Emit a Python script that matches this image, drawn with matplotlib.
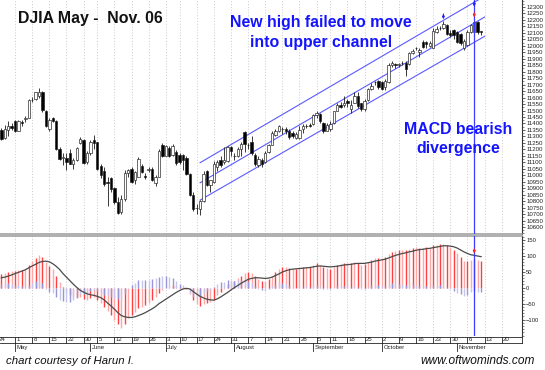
import numpy as np
import pandas as pd
import matplotlib
matplotlib.use("Agg")
import matplotlib.pyplot as plt
from matplotlib.patches import Rectangle
from matplotlib.ticker import MultipleLocator

plt.rcParams['font.family'] = ['Liberation Sans', 'DejaVu Sans']

# ---------------- data ----------------
holidays = ['2006-05-29', '2006-07-04', '2006-09-04', '2006-11-23']
first_candle = '2006-04-25'

opens = [11350,11285,11350,11380,11420,11345,11410,11435,11445,11578,
         11590,11615,11640,11500,11360,11440,11420,11205,11130,11130,
         11170,11090,11117,11250,11275,11100,11170,11275,11255,11075,
         11030,10950,10975,10900,10790,10715,10816,11015,11050,10965,
         10990,11070,10995,11040,11050,10940,10990,11230,11150,11210,
         11160,11180,11160,11155,11134,11013,10846,10745,10740,10800,
         11035,10925,10950,11060,11115,11105,11110,11215,11150,11145,
         11200,11335,11235,11260,11160,11080,11118,11105,11180,11232,
         11310,11345,11360,11360,11345,11330,11290,11285,11355,11380,
         11385,11395,11465,11470,11400,11345,11360,11400,11500,11545,
         11540,11575,11510,11560,11610,11555,11510,11580,11670,11718,
         11730,11720,11680,11720,11850,11860,11855,11865,11870,11860,
         11945,11980,11950,12030,12030,12000,11985,12110,12140,12135,
         12160,12100,12120,12110,12095,11985,12005,12110,12110,12185,
         12112]
highs = [11365,11390,11420,11400,11430,11425,11430,11460,11590,11605,
         11645,11675,11650,11505,11440,11450,11425,11220,11170,11170,
         11205,11130,11220,11295,11280,11185,11275,11310,11260,11090,
         11065,10990,10990,10910,10830,10850,11040,11050,11060,11030,
         11140,11090,11020,11060,11060,11000,11200,11250,11235,11225,
         11240,11195,11170,11165,11150,11015,10870,10780,10810,11030,
         11040,10965,11110,11120,11150,11220,11225,11225,11170,11215,
         11260,11340,11250,11300,11175,11145,11130,11190,11240,11340,
         11360,11390,11370,11375,11355,11340,11335,11380,11395,11395,
         11400,11470,11500,11480,11410,11400,11420,11500,11560,11565,
         11610,11590,11580,11640,11645,11560,11590,11675,11710,11730,
         11735,11725,11740,11870,11880,11870,11870,11880,11880,11955,
         11975,11990,11985,12045,12040,12040,12140,12150,12155,12195,
         12165,12120,12130,12115,12100,12050,12125,12165,12205,12195,
         12115]
lows = [11270,11280,11300,11350,11335,11340,11380,11415,11440,11565,
        11580,11600,11490,11370,11340,11410,11195,11120,11080,11040,
        11085,11050,11110,11245,11090,11085,11160,11200,11040,10975,
        10920,10760,10870,10780,10700,10700,10800,10990,10940,10930,
        10985,11020,10970,11025,10955,10920,10985,11140,11145,11140,
        11150,11080,11090,11040,11005,10840,10720,10700,10690,10795,
        10920,10870,10940,11030,11060,11090,11105,11150,11120,11140,
        11150,11180,11200,11160,11070,11060,11060,11095,11175,11230,
        11300,11335,11320,11320,11280,11290,11280,11280,11330,11365,
        11370,11390,11440,11400,11330,11340,11340,11395,11495,11520,
        11530,11530,11480,11555,11520,11500,11495,11575,11660,11700,
        11670,11660,11660,11710,11840,11830,11840,11850,11770,11855,
        11935,11965,11910,11985,11980,11990,11980,12100,12125,12130,
        12080,12070,12050,12020,12005,11970,12000,12100,12090,12095,
        12080]
closes = [11283,11354,11382,11367,11343,11416,11400,11439,11578,11585,
          11640,11643,11501,11381,11429,11420,11205,11128,11144,11105,
          11090,11117,11211,11278,11094,11168,11260,11248,11049,11002,
          10932,10939,10892,10793,10706,10816,11015,11040,10950,11025,
          11125,11027,10990,11045,10963,10990,11191,11150,11228,11151,
          11226,11091,11103,11120,11013,10846,10739,10747,10799,11011,
          10928,10960,11090,11104,11080,11120,11220,11186,11145,11200,
          11243,11240,11230,11173,11085,11124,11088,11175,11230,11327,
          11345,11381,11355,11340,11298,11304,11320,11352,11380,11383,
          11381,11464,11480,11420,11345,11392,11397,11498,11543,11527,
          11561,11555,11541,11613,11534,11508,11576,11669,11689,11718,
          11679,11670,11727,11851,11867,11850,11858,11867,11820,11948,
          11961,11981,11965,11993,12012,12025,12117,12128,12135,12170,
          12090,12086,12081,12031,12019,12040,12106,12157,12185,12103,
          12110]

macd = [42,46,50,52,52,55,56,58,70,82,
        93,102,96,80,67,58,38,18,3,-12,
        -22,-28,-30,-28,-35,-38,-33,-30,-38,-48,
        -60,-72,-85,-100,-112,-125,-112,-95,-85,-75,
        -63,-60,-53,-47,-38,-28,-16,-6,0,3,
        8,6,3,4,-3,-20,-40,-52,-57,-50,
        -47,-46,-38,-24,-12,-3,10,18,22,30,
        38,46,48,45,35,28,22,20,26,38,
        48,60,64,66,62,60,58,62,64,66,
        66,72,76,72,64,62,60,66,72,74,
        76,77,76,80,77,72,73,80,87,93,
        93,92,95,105,112,115,117,119,117,121,
        124,126,124,125,126,125,132,135,137,138,
        133,126,119,108,97,85,85,88,90,86,
        82]
signal = [31,33,36,40,44,48,52,56,62,68,
          73,79,82,83,81,75,67,57,44,33,
          22,11,1,-8,-14,-19,-22,-24,-27,-31,
          -38,-48,-57,-67,-78,-87,-91,-93,-93,-91,
          -87,-83,-78,-72,-66,-59,-50,-43,-36,-29,
          -22,-15,-9,-4,-2,-4,-12,-20,-27,-32,
          -36,-38,-39,-35,-29,-22,-15,-7,0,7,
          14,20,26,29,31,31,30,29,30,33,
          38,43,49,53,56,58,59,60,61,62,
          63,65,67,68,67,66,65,66,67,69,
          71,72,73,75,76,76,76,78,80,83,
          85,87,89,93,97,101,104,107,109,112,
          114,117,119,120,122,123,125,127,129,131,
          131,130,128,124,118,112,107,103,101,99,
          97]

week_dates = ['2006-04-24','2006-05-01','2006-05-08','2006-05-15','2006-05-22',
              '2006-05-30','2006-06-05','2006-06-12','2006-06-19','2006-06-26',
              '2006-07-03','2006-07-10','2006-07-17','2006-07-24','2006-07-31',
              '2006-08-07','2006-08-14','2006-08-21','2006-08-28','2006-09-05',
              '2006-09-11','2006-09-18','2006-09-25','2006-10-02','2006-10-09',
              '2006-10-16','2006-10-23','2006-10-30','2006-11-06','2006-11-13',
              '2006-11-20']
month_dates = ['2006-05-01','2006-06-01','2006-07-03','2006-08-01',
               '2006-09-01','2006-10-02','2006-11-01']
month_names = ['May','June','July','August','September','October','November']

# channel lines: (date, price) endpoints
chan_lower = [('2006-07-18', 10808), ('2006-11-13', 12073)]
chan_mid = [('2006-07-18', 10942), ('2006-11-13', 12222)]
chan_upper = [('2006-07-18', 11097), ('2006-11-13', 12383)]
signal_date = '2006-11-08'
oct_high_date = '2006-10-26'

price_ticks = list(range(10600, 12301, 50))
macd_ticks = [-100, -50, 0, 50, 100, 150]

# ---------------- trading calendar ----------------
cal = [d for d in pd.bdate_range('2006-04-24', '2006-12-01')
       if d.strftime('%Y-%m-%d') not in holidays]
pos = {d.strftime('%Y-%m-%d'): k for k, d in enumerate(cal)}
n = len(closes)
xs = pos[first_candle] + np.arange(n)

W, H = 545, 370
fig = plt.figure(figsize=(W / 100, H / 100), dpi=100)


def box(x0, y0, x1, y1):
    return [x0 / W, 1 - y1 / H, (x1 - x0) / W, (y1 - y0) / H]


ax = fig.add_axes(box(0, 0, 522, 234))
axm = fig.add_axes(box(0, 236, 522, 336))
axd = fig.add_axes(box(0, 336, 522, 353))

XL = (0.613, 152.93)
for a in (ax, axm, axd):
    a.set_xlim(*XL)
ax.set_ylim(10546, 12354)
axm.set_ylim(-151, 161.6)
axd.set_ylim(0, 1)

grid_kw = dict(color='#c4c4c4', lw=0.6, ls=(0, (1.2, 2.2)), zorder=0)
week_x = [pos[d] for d in week_dates]
for a in (ax, axm):
    for wx in week_x:
        a.axvline(wx, **grid_kw)

# ---------------- candles ----------------
bw = 0.7
for x, o, h, l, c in zip(xs, opens, highs, lows, closes):
    ax.vlines(x, l, h, color='#1a1a1a', lw=0.6, zorder=2)
    bottom = min(o, c)
    height = max(abs(c - o), 2)
    fc = '#000000' if c < o else '#ffffff'
    ax.add_patch(Rectangle((x - bw / 2, bottom), bw, height, facecolor=fc,
                           edgecolor='#1a1a1a', lw=0.45, zorder=3))

# channel lines
for line in (chan_lower, chan_mid, chan_upper):
    (d0, p0), (d1, p1) = line
    ax.plot([pos[d0], pos[d1]], [p0, p1], color='#5a5aff', lw=0.8, zorder=1)

sx = pos[signal_date]
ax.axvline(sx, color='#3c3cff', lw=0.9, zorder=4)
axm.axvline(sx, color='#3c3cff', lw=0.9, zorder=5)


def arrow(a, x, tail, tip, color):
    a.annotate('', xy=(x, tip), xytext=(x, tail),
               arrowprops=dict(arrowstyle='-|>', color=color, lw=0.8,
                               mutation_scale=3.5, shrinkA=0, shrinkB=0),
               zorder=6, annotation_clip=False)


arrow(ax, sx, 12342, 12302, '#2020ff')
arrow(ax, pos[oct_high_date], 12246, 12205, '#2020ff')
arrow(ax, sx, 12256, 12220, '#ff2020')
arrow(axm, sx, 121, 107, '#ff2020')

# ---------------- MACD ----------------
hist = np.array(macd) - np.array(signal)
red_cols = ['#ff4040' if k % 2 == 0 else '#ffa8a8' for k in range(n)]
blue_cols = ['#9696d8' if k % 2 == 0 else '#c6c6ec' for k in range(n)]
axm.vlines(xs, 0, macd, colors=red_cols, lw=1.0, zorder=2)
axm.vlines(xs, 0, hist, colors=blue_cols, lw=1.0, zorder=3)
axm.plot(xs, signal, color='#4a4a4a', lw=0.9, zorder=4)

# ---------------- axes styling ----------------
for a, ticks, fs in ((ax, price_ticks, 4.4), (axm, macd_ticks, 4.2)):
    for s in ('left', 'top'):
        a.spines[s].set_visible(False)
    a.spines['right'].set_color('#333333')
    a.spines['right'].set_linewidth(0.8)
    a.set_xticks([])
    a.yaxis.tick_right()
    a.set_yticks(ticks)
    a.tick_params(axis='y', which='major', labelsize=fs, length=2.2, width=0.5,
                  pad=0.8, colors='#222222')
    a.tick_params(axis='y', which='minor', length=1.2, width=0.4, colors='#333333')
ax.yaxis.set_minor_locator(MultipleLocator(25))
axm.yaxis.set_minor_locator(MultipleLocator(10))
ax.spines['bottom'].set_color('#9a9a9a')
ax.spines['bottom'].set_linewidth(1.1)
axm.spines['top'].set_visible(True)
axm.spines['top'].set_color('#9a9a9a')
axm.spines['top'].set_linewidth(1.1)
axm.spines['bottom'].set_visible(False)

# ---------------- date strip ----------------
axd.axis('off')
ytop, ycell, ymon = 0.96, 0.58, 0.10
lk = dict(color='#222222', lw=0.6, clip_on=False)
axd.plot(XL, [ytop, ytop], **lk)
axd.plot(XL, [ycell, ycell], **lk)
axd.plot([XL[1], XL[1]], [ycell, ytop], **lk)
for d in week_dates:
    wx = pos[d]
    if wx > XL[0]:
        axd.plot([wx, wx], [ycell, ytop], **lk)
    axd.text(max(wx, XL[0] - 0.6) + 0.35, (ytop + ycell) / 2, str(int(d[-2:])),
             fontsize=4.4, ha='left', va='center', color='#222222')
for d, name in zip(month_dates, month_names):
    mx = pos[d]
    axd.plot([mx, mx], [ymon, ycell], **lk)
    axd.text(mx + 0.45, 0.30, name, fontsize=4.3, ha='left', va='center',
             color='#222222')

# ---------------- texts ----------------
def ft(x, y, s, **kw):
    fig.text(x / W, 1 - y / H, s, **kw)


ft(90, 18.5, 'DJIA May -  Nov. 06', fontsize=11.4, fontweight='bold',
   ha='center', va='center', color='#111111')
blue = '#1414ff'
ft(321, 22, 'New high failed to move', fontsize=11.4, fontweight='bold',
   ha='center', va='center', color=blue)
ft(321, 42, 'into upper channel', fontsize=11.4, fontweight='bold',
   ha='center', va='center', color=blue)
ft(458.5, 129.5, 'MACD bearish', fontsize=11.4, fontweight='bold',
   ha='center', va='center', color=blue)
ft(458.5, 148.5, 'divergence', fontsize=11.4, fontweight='bold',
   ha='center', va='center', color=blue)
ft(6, 361.5, 'chart courtesy of Harun I.', fontsize=8.2, fontstyle='italic',
   ha='left', va='center', color='#111111')
ft(535, 361, 'www.oftwominds.com', fontsize=8.6, fontstyle='italic',
   ha='right', va='center', color='#111111')

fig.savefig('out.png', dpi=100)
